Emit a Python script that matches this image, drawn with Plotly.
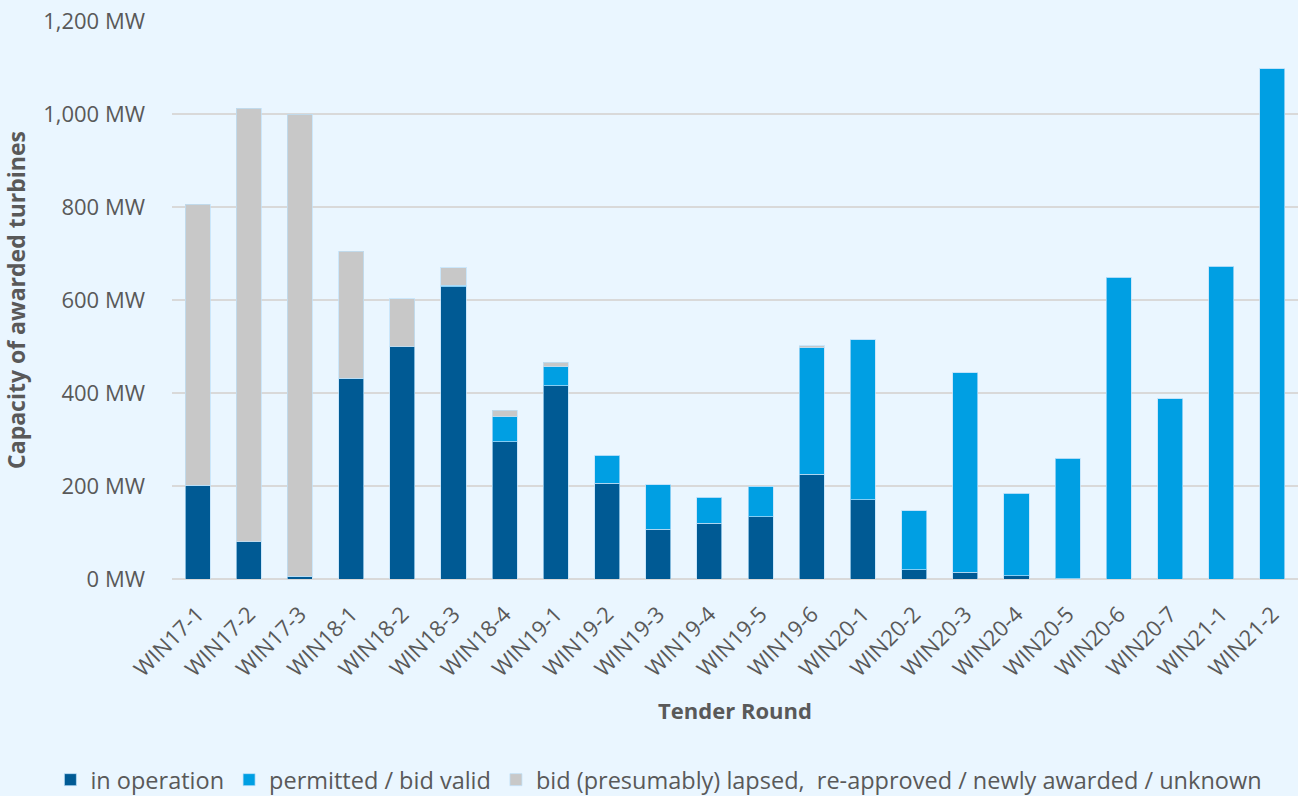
import plotly.graph_objects as go

rounds = ['WIN17-1', 'WIN17-2', 'WIN17-3', 'WIN18-1', 'WIN18-2', 'WIN18-3', 'WIN18-4',
          'WIN19-1', 'WIN19-2', 'WIN19-3', 'WIN19-4', 'WIN19-5', 'WIN19-6',
          'WIN20-1', 'WIN20-2', 'WIN20-3', 'WIN20-4', 'WIN20-5', 'WIN20-6', 'WIN20-7',
          'WIN21-1', 'WIN21-2']

in_operation = [202, 80, 6, 432, 500, 629, 295,
                416, 206, 107, 120, 134, 225,
                170, 20, 15, 7, 1, 0, 0,
                0, 0]
permitted = [0, 0, 0, 0, 0, 3, 54,
             41, 60, 96, 56, 66, 272,
             345, 127, 429, 177, 259, 649, 388,
             673, 1097]
lapsed = [604, 932, 993, 273, 103, 37, 14,
          9, 0, 0, 0, 0, 5,
          0, 0, 0, 0, 0, 0, 0,
          0, 0]

tick_vals = [0, 200, 400, 600, 800, 1000, 1200]
tick_text = ['0 MW', '200 MW', '400 MW', '600 MW', '800 MW', '1,000 MW', '1,200 MW']

font_grey = '#595959'

fig = go.Figure()
series = [
    ('in operation', in_operation, '#005A94'),
    ('permitted / bid valid', permitted, '#009FE3'),
    ('bid (presumably) lapsed,&nbsp; re-approved / newly awarded / unknown', lapsed, '#C8C8C8'),
]
for name, vals, col in series:
    fig.add_trace(go.Bar(
        x=rounds,
        y=vals,
        name=name,
        marker=dict(color=col, line=dict(color='rgba(190,225,250,0.7)', width=1)),
        hoverinfo='skip'
    ))

fig.update_layout(
    barmode='stack',
    bargap=0.51,
    width=1298,
    height=796,
    paper_bgcolor='#EAF6FF',
    plot_bgcolor='#EAF6FF',
    font=dict(family='Open Sans', size=22, color=font_grey),
    margin=dict(l=172, r=0, t=21, b=217, autoexpand=False),
    showlegend=True,
    legend=dict(
        orientation='h',
        x=-0.108, xanchor='left',
        y=-0.36, yanchor='middle',
        font=dict(size=23.5, color=font_grey),
        bgcolor='rgba(0,0,0,0)',
        itemwidth=30,
        traceorder='normal'
    )
)

fig.update_xaxes(
    tickangle=-45,
    showgrid=False,
    showline=False,
    zeroline=False,
    ticks='',
    ticklabelstandoff=17,
    tickfont=dict(size=22, color=font_grey),
    title=dict(text='<b>Tender Round</b>', font=dict(size=22, color=font_grey), standoff=22)
)
fig.update_yaxes(
    range=[0, 1200],
    tickvals=tick_vals,
    ticktext=tick_text,
    showgrid=True,
    gridcolor='#D9D9D9',
    gridwidth=1.5,
    zeroline=True,
    zerolinecolor='#D9D9D9',
    zerolinewidth=1.5,
    ticks='',
    ticklabelstandoff=26,
    tickfont=dict(size=22, color=font_grey),
    title=dict(text='<b>Capacity of awarded turbines</b>', font=dict(size=23, color=font_grey), standoff=13)
)

fig.write_html('out.html', config={'displayModeBar': False},
               post_script="document.body.style.margin='0';")
